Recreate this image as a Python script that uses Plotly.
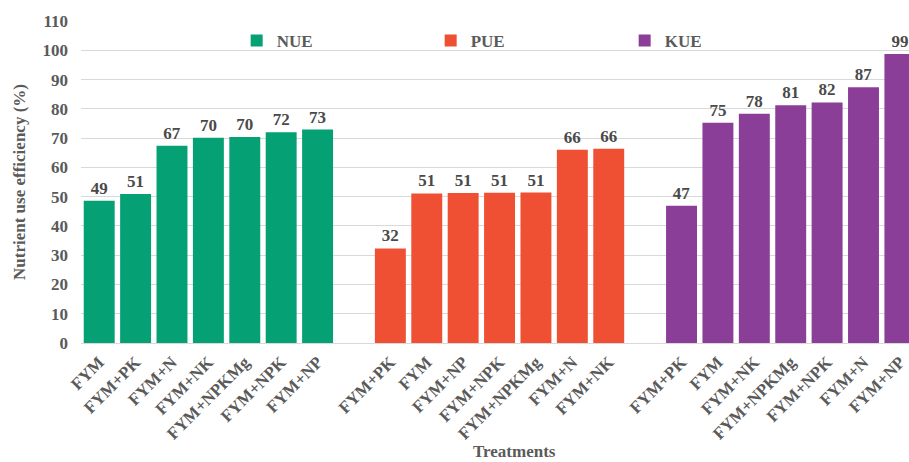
import plotly.graph_objects as go

# Treatments per nutrient, sorted by efficiency within each group
nue_treatments = ["FYM", "FYM+PK", "FYM+N", "FYM+NK", "FYM+NPKMg", "FYM+NPK", "FYM+NP"]
nue_values = [48.6, 50.9, 67.4, 70.1, 70.4, 72.0, 72.9]

pue_treatments = ["FYM+PK", "FYM", "FYM+NP", "FYM+NPK", "FYM+NPKMg", "FYM+N", "FYM+NK"]
pue_values = [32.3, 51.1, 51.2, 51.3, 51.4, 66.0, 66.4]

kue_treatments = ["FYM+PK", "FYM", "FYM+NK", "FYM+NPKMg", "FYM+NPK", "FYM+N", "FYM+NP"]
kue_values = [46.9, 75.2, 78.3, 81.2, 82.2, 87.4, 98.7]

series = [
    ("NUE", nue_treatments, nue_values, "#05a074"),
    ("PUE", pue_treatments, pue_values, "#ef5033"),
    ("KUE", kue_treatments, kue_values, "#8a3e97"),
]

serif = "Liberation Serif"
grey = "#5a5a5a"

fig = go.Figure()
tickvals, ticktext = [], []
for g, (name, cats, vals, color) in enumerate(series):
    # one empty slot separates consecutive groups
    xs = [g * (len(cats) + 1) + i for i in range(len(cats))]
    tickvals += xs
    ticktext += cats
    fig.add_trace(go.Bar(
        x=xs, y=vals, name=name, width=0.85,
        marker=dict(color=color, line=dict(width=0)),
        text=vals, texttemplate="%{y:.0f}", textposition="outside",
        textfont=dict(family=serif, size=17, color="#4a4a4a", weight="bold"),
        cliponaxis=False,
    ))

fig.update_layout(
    width=909, height=462,
    margin=dict(l=81, r=0, t=21, b=119),
    paper_bgcolor="white", plot_bgcolor="white",
    barmode="overlay",
    font=dict(family=serif, color=grey),
    showlegend=True,
    legend=dict(
        orientation="h", x=0.188, xanchor="left", y=0.938, yanchor="middle",
        entrywidth=149, entrywidthmode="pixels",
        font=dict(family=serif, size=17, color=grey, weight="bold"),
        bgcolor="rgba(0,0,0,0)",
    ),
    xaxis=dict(
        range=[-0.5, 22.25],
        tickmode="array", tickvals=tickvals, ticktext=ticktext,
        tickangle=-45, showgrid=False, showline=False, zeroline=False,
        ticklabelstandoff=5,
        tickfont=dict(family=serif, size=17, color=grey, weight="bold"),
    ),
    yaxis=dict(
        range=[0, 110], dtick=10, tick0=0,
        showgrid=True, gridcolor="#d9d9d9", gridwidth=1,
        zeroline=True, zerolinecolor="#d9d9d9", zerolinewidth=1,
        showline=False, ticklabelstandoff=12,
        tickfont=dict(family=serif, size=17, color=grey, weight="bold"),
        title=dict(text="Nutrient use efficiency (%)", standoff=12,
                   font=dict(family=serif, size=17, color=grey, weight="bold")),
    ),
    annotations=[dict(
        text="Treatments", xref="paper", yref="paper",
        x=0.524, y=-0.338, xanchor="center", yanchor="middle", showarrow=False,
        font=dict(family=serif, size=17, color=grey, weight="bold"),
    )],
)

fig.write_html("out.html")
